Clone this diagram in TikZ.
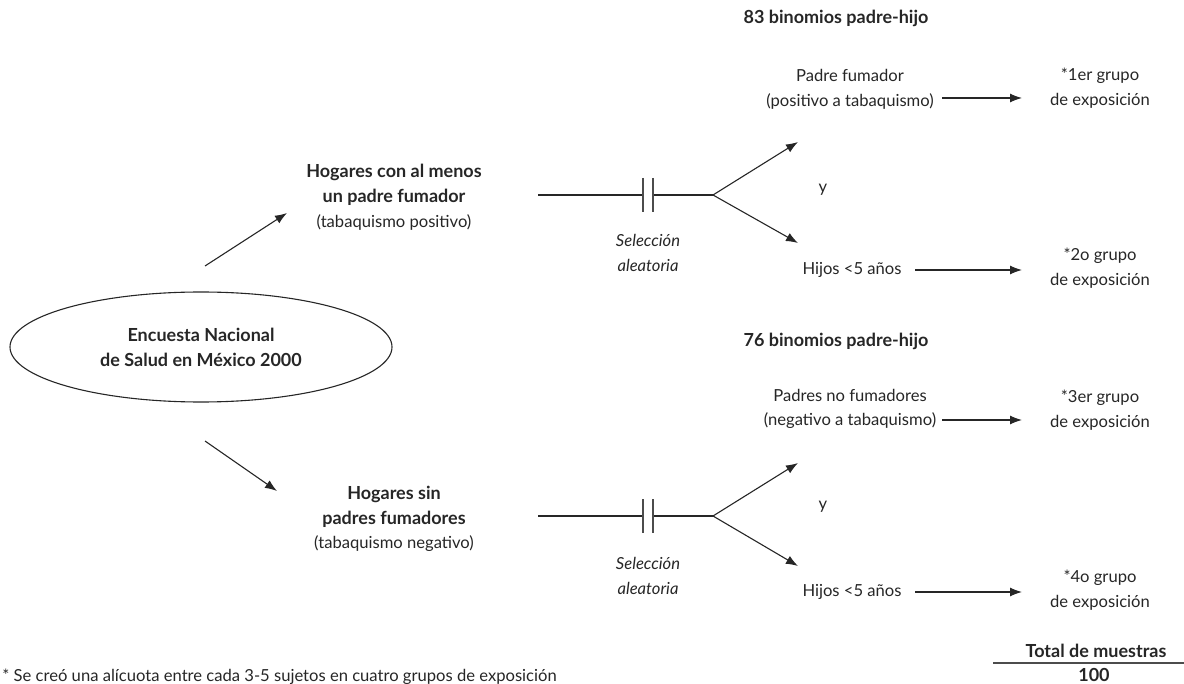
\documentclass[tikz,border=0pt]{standalone}
\usepackage{fontspec}
\setmainfont{Lato}
\usetikzlibrary{arrows.meta,shapes.geometric}
\begin{document}
\begin{tikzpicture}[x=0.5pt,y=-0.5pt,
  txt/.style={align=center,inner sep=0pt,font=\fontsize{8.3}{12.4}\selectfont,text=black!85},
  btxt/.style={txt,font=\fontsize{9}{12.4}\selectfont\bfseries},
  itxt/.style={txt,font=\fontsize{8.3}{12.4}\selectfont\itshape},
  arr/.style={draw=black!85,line width=0.55pt,-{Latex[length=6pt,width=4.5pt]}},
  ln/.style={draw=black!85,line width=0.55pt},
  plate/.style={draw=black!70,line width=0.9pt}]
\useasboundingbox (0,0) rectangle (1184,684);
\clip (0,0) rectangle (1184,684);
% ellipse
\node[ellipse,draw=black!85,line width=0.55pt,minimum width=191pt,minimum height=55pt,inner sep=0pt] (enc) at (201,347) {};
\node[btxt] (enct) at (201,347) {Encuesta Nacional\\de Salud en México 2000};
% upper branch
\node[txt] (hcon) at (394,197) {\textbf{\fontsize{9}{12.4}\selectfont Hogares con al menos}\\\textbf{\fontsize{9}{12.4}\selectfont un padre fumador}\\(tabaquismo positivo)};
\coordinate (e1s) at (205,266); \coordinate (e1e) at (287,213);
\draw[arr] (e1s) -- (e1e);
\coordinate (l1a) at (538,195); \coordinate (f1) at (713,195);
\draw[ln] (l1a) -- (643,195); \draw[ln] (653,195) -- (f1);
\draw[plate] (643,178) -- (643,212); \draw[plate] (653,178) -- (653,212);
\draw[arr] (f1) -- (798,142); \draw[arr] (f1) -- (798,243);
\node[itxt] (sel1) at (648,253) {Selección\\aleatoria};
\node[txt] (y1) at (823,190) {y};
\node[btxt] (b83) at (836,18) {83 binomios padre-hijo};
\node[txt] (pf) at (850,89) {Padre fumador\\(positivo a tabaquismo)};
\node[txt] (g1) at (1100,88) {*1er grupo\\de exposición};
\draw[arr] (942,98) -- (1022,98);
\node[txt] (h1) at (852,270) {Hijos <5 años};
\node[txt] (g2) at (1100,268) {*2o grupo\\de exposición};
\draw[arr] (915,270) -- (1022,270);
% lower branch
\node[txt] (hsin) at (394,519) {\textbf{\fontsize{9}{12.4}\selectfont Hogares sin}\\\textbf{\fontsize{9}{12.4}\selectfont padres fumadores}\\(tabaquismo negativo)};
\draw[arr] (205,441) -- (277,491);
\coordinate (l2a) at (538,516); \coordinate (f2) at (713,516);
\draw[ln] (l2a) -- (643,516); \draw[ln] (653,516) -- (f2);
\draw[plate] (643,499) -- (643,533); \draw[plate] (653,499) -- (653,533);
\draw[arr] (f2) -- (798,463); \draw[arr] (f2) -- (798,566);
\node[itxt] (sel2) at (648,576) {Selección\\aleatoria};
\node[txt] (y2) at (823,507) {y};
\node[btxt] (b76) at (836,341) {76 binomios padre-hijo};
\node[txt] (pnf) at (850,409) {Padres no fumadores\\(negativo a tabaquismo)};
\node[txt] (g3) at (1100,410) {*3er grupo\\de exposición};
\draw[arr] (942,420) -- (1022,420);
\node[txt] (h2) at (852,592) {Hijos <5 años};
\node[txt] (g4) at (1100,590) {*4o grupo\\de exposición};
\draw[arr] (915,592) -- (1022,592);
% total
\node[btxt] (tot) at (1096,651) {Total de muestras};
\draw[draw=black!70,line width=0.7pt] (993,663) -- (1184,663);
\node[btxt] (cien) at (1094,675) {100};
% footnote
\node[txt,anchor=base west] (fn) at (2,681) {* Se creó una alícuota entre cada 3-5 sujetos en cuatro grupos de exposición};
\end{tikzpicture}
\end{document}
